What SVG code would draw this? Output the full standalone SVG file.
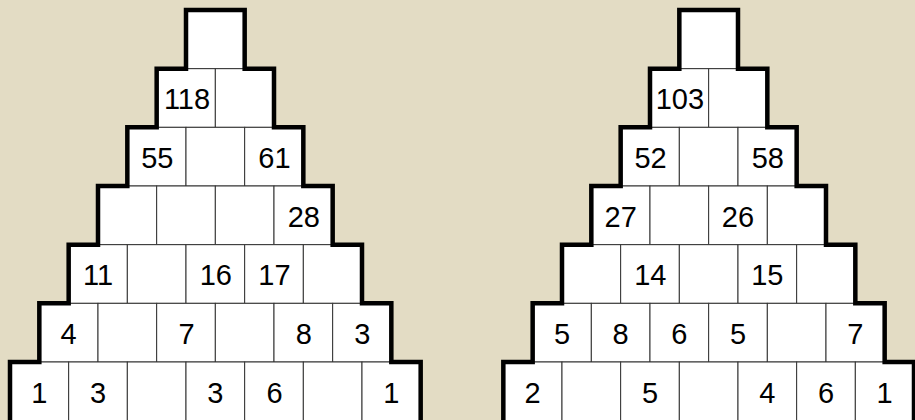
<svg xmlns="http://www.w3.org/2000/svg" width="915" height="420" viewBox="0 0 915 420">
<style>
.c rect{fill:#fff;stroke:#333;stroke-width:1}
.c text{font-family:"Liberation Sans",Arial,sans-serif;font-size:29px;fill:#000;text-anchor:middle}
.o{fill:none;stroke:#000;stroke-width:4.5;stroke-linejoin:miter}
</style>
<rect width="915" height="420" fill="#e3dcc4"/>
<g id="pyramid-left">
<g id="L1a" class="c"><rect x="186" y="10" width="58.67" height="58.67"/></g>
<g id="L2a" class="c"><rect x="156.67" y="68.67" width="58.67" height="58.67"/><text x="187" y="109.3">118</text></g>
<g id="L2b" class="c"><rect x="215.33" y="68.67" width="58.67" height="58.67"/></g>
<g id="L3a" class="c"><rect x="127.33" y="127.33" width="58.67" height="58.67"/><text x="157.3" y="168">55</text></g>
<g id="L3b" class="c"><rect x="186" y="127.33" width="58.67" height="58.67"/></g>
<g id="L3c" class="c"><rect x="244.67" y="127.33" width="58.67" height="58.67"/><text x="274.5" y="168">61</text></g>
<g id="L4a" class="c"><rect x="98" y="186" width="58.67" height="58.67"/></g>
<g id="L4b" class="c"><rect x="156.67" y="186" width="58.67" height="58.67"/></g>
<g id="L4c" class="c"><rect x="215.33" y="186" width="58.67" height="58.67"/></g>
<g id="L4d" class="c"><rect x="274" y="186" width="58.67" height="58.67"/><text x="303.8" y="226.6">28</text></g>
<g id="L5a" class="c"><rect x="68.67" y="244.67" width="58.67" height="58.67"/><text x="98" y="285.3">11</text></g>
<g id="L5b" class="c"><rect x="127.33" y="244.67" width="58.67" height="58.67"/></g>
<g id="L5c" class="c"><rect x="186" y="244.67" width="58.67" height="58.67"/><text x="215.8" y="285.3">16</text></g>
<g id="L5d" class="c"><rect x="244.67" y="244.67" width="58.67" height="58.67"/><text x="274.5" y="285.3">17</text></g>
<g id="L5e" class="c"><rect x="303.33" y="244.67" width="58.67" height="58.67"/></g>
<g id="L6a" class="c"><rect x="39.33" y="303.33" width="58.67" height="58.67"/><text x="68.67" y="344">4</text></g>
<g id="L6b" class="c"><rect x="98" y="303.33" width="58.67" height="58.67"/></g>
<g id="L6c" class="c"><rect x="156.67" y="303.33" width="58.67" height="58.67"/><text x="186.5" y="344">7</text></g>
<g id="L6d" class="c"><rect x="215.33" y="303.33" width="58.67" height="58.67"/></g>
<g id="L6e" class="c"><rect x="274" y="303.33" width="58.67" height="58.67"/><text x="303.8" y="344">8</text></g>
<g id="L6f" class="c"><rect x="332.67" y="303.33" width="58.67" height="58.67"/><text x="362.3" y="344">3</text></g>
<g id="L7a" class="c"><rect x="10" y="362" width="58.67" height="58.67"/><text x="39.33" y="402.6">1</text></g>
<g id="L7b" class="c"><rect x="68.67" y="362" width="58.67" height="58.67"/><text x="98" y="402.6">3</text></g>
<g id="L7c" class="c"><rect x="127.33" y="362" width="58.67" height="58.67"/></g>
<g id="L7d" class="c"><rect x="186" y="362" width="58.67" height="58.67"/><text x="215.33" y="402.6">3</text></g>
<g id="L7e" class="c"><rect x="244.67" y="362" width="58.67" height="58.67"/><text x="274.5" y="402.6">6</text></g>
<g id="L7f" class="c"><rect x="303.33" y="362" width="58.67" height="58.67"/></g>
<g id="L7g" class="c"><rect x="362" y="362" width="58.67" height="58.67"/><text x="391.33" y="402.6">1</text></g>
<polyline class="o" points="10,424 10,362 39.33,362 39.33,303.33 68.67,303.33 68.67,244.67 98,244.67 98,186 127.33,186 127.33,127.33 156.67,127.33 156.67,68.67 186,68.67 186,10 244.67,10 244.67,68.67 274,68.67 274,127.33 303.33,127.33 303.33,186 332.67,186 332.67,244.67 362,244.67 362,303.33 391.33,303.33 391.33,362 420.67,362 420.67,424"/>
</g>
<g id="pyramid-right" transform="translate(493.33 0)">
<g id="R1a" class="c"><rect x="186" y="10" width="58.67" height="58.67"/></g>
<g id="R2a" class="c"><rect x="156.67" y="68.67" width="58.67" height="58.67"/><text x="186.5" y="109.3">103</text></g>
<g id="R2b" class="c"><rect x="215.33" y="68.67" width="58.67" height="58.67"/></g>
<g id="R3a" class="c"><rect x="127.33" y="127.33" width="58.67" height="58.67"/><text x="157.3" y="168">52</text></g>
<g id="R3b" class="c"><rect x="186" y="127.33" width="58.67" height="58.67"/></g>
<g id="R3c" class="c"><rect x="244.67" y="127.33" width="58.67" height="58.67"/><text x="274.5" y="168">58</text></g>
<g id="R4a" class="c"><rect x="98" y="186" width="58.67" height="58.67"/><text x="127.33" y="226.6">27</text></g>
<g id="R4b" class="c"><rect x="156.67" y="186" width="58.67" height="58.67"/></g>
<g id="R4c" class="c"><rect x="215.33" y="186" width="58.67" height="58.67"/><text x="244.67" y="226.6">26</text></g>
<g id="R4d" class="c"><rect x="274" y="186" width="58.67" height="58.67"/></g>
<g id="R5a" class="c"><rect x="68.67" y="244.67" width="58.67" height="58.67"/></g>
<g id="R5b" class="c"><rect x="127.33" y="244.67" width="58.67" height="58.67"/><text x="157" y="285.3">14</text></g>
<g id="R5c" class="c"><rect x="186" y="244.67" width="58.67" height="58.67"/></g>
<g id="R5d" class="c"><rect x="244.67" y="244.67" width="58.67" height="58.67"/><text x="274" y="285.3">15</text></g>
<g id="R5e" class="c"><rect x="303.33" y="244.67" width="58.67" height="58.67"/></g>
<g id="R6a" class="c"><rect x="39.33" y="303.33" width="58.67" height="58.67"/><text x="68.67" y="344">5</text></g>
<g id="R6b" class="c"><rect x="98" y="303.33" width="58.67" height="58.67"/><text x="127.33" y="344">8</text></g>
<g id="R6c" class="c"><rect x="156.67" y="303.33" width="58.67" height="58.67"/><text x="186" y="344">6</text></g>
<g id="R6d" class="c"><rect x="215.33" y="303.33" width="58.67" height="58.67"/><text x="244.67" y="344">5</text></g>
<g id="R6e" class="c"><rect x="274" y="303.33" width="58.67" height="58.67"/></g>
<g id="R6f" class="c"><rect x="332.67" y="303.33" width="58.67" height="58.67"/><text x="362" y="344">7</text></g>
<g id="R7a" class="c"><rect x="10" y="362" width="58.67" height="58.67"/><text x="39.33" y="402.6">2</text></g>
<g id="R7b" class="c"><rect x="68.67" y="362" width="58.67" height="58.67"/></g>
<g id="R7c" class="c"><rect x="127.33" y="362" width="58.67" height="58.67"/><text x="156.67" y="402.6">5</text></g>
<g id="R7d" class="c"><rect x="186" y="362" width="58.67" height="58.67"/></g>
<g id="R7e" class="c"><rect x="244.67" y="362" width="58.67" height="58.67"/><text x="274" y="402.6">4</text></g>
<g id="R7f" class="c"><rect x="303.33" y="362" width="58.67" height="58.67"/><text x="332.67" y="402.6">6</text></g>
<g id="R7g" class="c"><rect x="362" y="362" width="58.67" height="58.67"/><text x="391.33" y="402.6">1</text></g>
<polyline class="o" points="10,424 10,362 39.33,362 39.33,303.33 68.67,303.33 68.67,244.67 98,244.67 98,186 127.33,186 127.33,127.33 156.67,127.33 156.67,68.67 186,68.67 186,10 244.67,10 244.67,68.67 274,68.67 274,127.33 303.33,127.33 303.33,186 332.67,186 332.67,244.67 362,244.67 362,303.33 391.33,303.33 391.33,362 420.67,362 420.67,424"/>
</g>
<g id="connectors"/>
</svg>
